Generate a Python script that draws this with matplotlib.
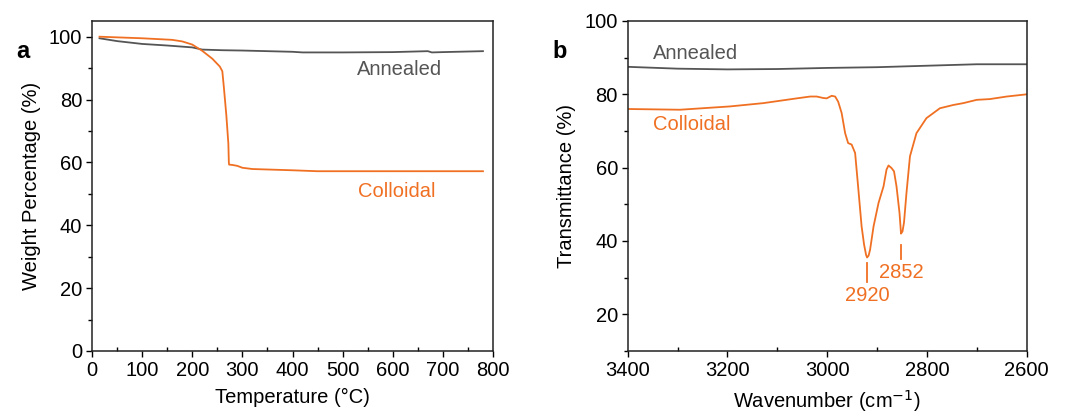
import matplotlib.pyplot as plt
from matplotlib.ticker import MultipleLocator

plt.rcParams['font.family'] = ['Liberation Sans', 'DejaVu Sans']
plt.rcParams['font.size'] = 14.5

ORANGE = '#f07023'
GRAY = '#555555'

# TGA (panel a)
tga_ann_t = [15, 50, 100, 150, 200, 220, 260, 300, 350, 400, 420, 500, 600, 670, 678, 700, 780]
tga_ann_w = [99.5, 98.6, 97.7, 97.2, 96.6, 95.9, 95.7, 95.6, 95.4, 95.2, 95.0, 95.0, 95.1, 95.4, 95.0, 95.1, 95.4]
tga_col_t = [15, 100, 160, 180, 200, 220, 240, 255, 260, 263, 268, 272, 273, 273.5, 280, 290, 300, 320, 400, 450, 600, 780]
tga_col_w = [100, 99.5, 99.0, 98.5, 97.5, 95.5, 93.0, 90.5, 89.0, 84.0, 75.0, 66.0, 60.0, 59.3, 59.2, 58.9, 58.3, 57.9, 57.5, 57.2, 57.2, 57.2]

# FTIR (panel b)
ir_ann_k = [3400, 3300, 3200, 3100, 3000, 2900, 2800, 2700, 2600]
ir_ann_t = [87.5, 87.0, 86.8, 86.9, 87.2, 87.4, 87.8, 88.2, 88.2]
ir_col_k = [3400, 3295, 3195, 3128, 3061, 3034, 3021, 3008, 3001, 2991, 2984, 2978, 2971,
            2964, 2958, 2951, 2944, 2938, 2931, 2926, 2922, 2920, 2917, 2914, 2907, 2897,
            2887, 2881, 2877, 2871, 2866, 2861, 2855, 2853, 2852, 2849, 2846, 2841, 2834,
            2821, 2801, 2774, 2747, 2727, 2700, 2674, 2640, 2600]
ir_col_t = [76.0, 75.8, 76.7, 77.6, 78.9, 79.4, 79.4, 79.0, 78.9, 79.6, 79.4, 78.0, 74.9,
            69.4, 66.7, 66.3, 64.0, 54.9, 44.0, 39.0, 36.2, 35.5, 36.0, 37.6, 44.0, 50.4,
            54.9, 59.5, 60.6, 59.9, 59.0, 54.9, 47.7, 44.0, 42.0, 42.6, 45.0, 53.1, 63.1,
            69.4, 73.5, 76.2, 77.1, 77.6, 78.5, 78.7, 79.4, 80.0]
peaks = [2920, 2852]

fig = plt.figure(figsize=(10.65, 4.19), dpi=100)
ax1 = fig.add_axes([0.0864, 0.1623, 0.3765, 0.7876])
ax2 = fig.add_axes([0.5894, 0.1623, 0.3746, 0.7876])

for ax in (ax1, ax2):
    for s in ax.spines.values():
        s.set_linewidth(1.1)
        s.set_color('#222222')
    ax.tick_params(which='major', direction='out', length=4, width=1.0, pad=3)
    ax.tick_params(which='minor', direction='out', length=3, width=1.0)
    ax.tick_params(axis='x', which='minor', direction='in')

# panel a
ax1.plot(tga_ann_t, tga_ann_w, color=GRAY, lw=1.3)
ax1.plot(tga_col_t, tga_col_w, color=ORANGE, lw=1.3)
ax1.set_xlim(0, 800)
ax1.set_ylim(0, 105)
ax1.xaxis.set_major_locator(MultipleLocator(100))
ax1.xaxis.set_minor_locator(MultipleLocator(50))
ax1.yaxis.set_major_locator(MultipleLocator(20))
ax1.yaxis.set_minor_locator(MultipleLocator(10))
ax1.set_xlabel('Temperature (°C)', labelpad=6)
ax1.set_ylabel('Weight Percentage (%)', labelpad=6)
ax1.text(614, 89.5, 'Annealed', color=GRAY, ha='center', va='center')
ax1.text(608, 50.6, 'Colloidal', color=ORANGE, ha='center', va='center')
fig.text(23 / 1065, 1 - 51 / 419, 'a', fontsize=17, fontweight='bold', ha='center', va='center')

# panel b
ax2.plot(ir_ann_k, ir_ann_t, color=GRAY, lw=1.3)
ax2.plot(ir_col_k, ir_col_t, color=ORANGE, lw=1.3)
ax2.set_xlim(3400, 2600)
ax2.set_ylim(10, 100)
ax2.xaxis.set_major_locator(MultipleLocator(200))
ax2.xaxis.set_minor_locator(MultipleLocator(100))
ax2.yaxis.set_major_locator(MultipleLocator(20))
ax2.yaxis.set_minor_locator(MultipleLocator(10))
ax2.set_xlabel('Wavenumber (cm$^{-1}$)', labelpad=6)
ax2.set_ylabel('Transmittance (%)', labelpad=6)
ax2.text(3350, 91.2, 'Annealed', color=GRAY, ha='left', va='center')
ax2.text(3350, 71.7, 'Colloidal', color=ORANGE, ha='left', va='center')
ax2.plot([peaks[0], peaks[0]], [34.1, 28.7], color=ORANGE, lw=1.3)
ax2.text(peaks[0], 25.0, str(peaks[0]), color=ORANGE, ha='center', va='center')
ax2.plot([peaks[1], peaks[1]], [39.0, 35.0], color=ORANGE, lw=1.3)
ax2.text(peaks[1], 31.4, str(peaks[1]), color=ORANGE, ha='center', va='center')
fig.text(560 / 1065, 1 - 51 / 419, 'b', fontsize=17, fontweight='bold', ha='center', va='center')

fig.savefig('out.png', dpi=100)
